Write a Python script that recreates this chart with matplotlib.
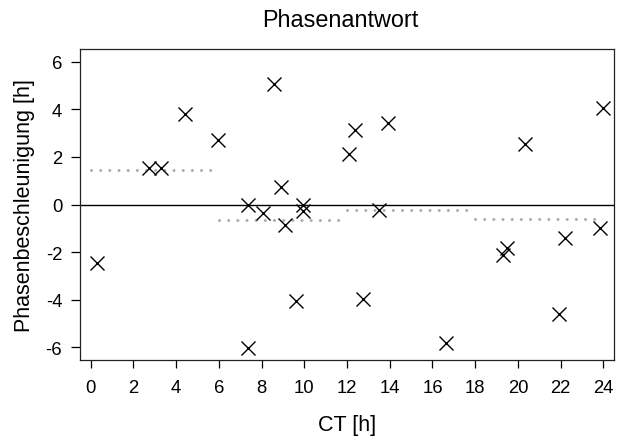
import matplotlib
matplotlib.use("Agg")
import matplotlib.pyplot as plt

plt.rcParams['font.family'] = ['Liberation Sans', 'DejaVu Sans']
plt.rcParams['axes.unicode_minus'] = False

# Data
ct = [0.28, 2.74, 3.28, 4.41, 5.98, 7.35, 7.35, 8.08, 8.58, 8.89, 9.10, 9.61,
      9.95, 9.95, 12.11, 12.37, 12.76, 13.51, 13.90, 16.63, 19.32, 19.47,
      20.35, 21.94, 22.22, 23.84, 24.00]
shift = [-2.45, 1.54, 1.54, 3.78, 2.69, 0.00, -6.04, -0.35, 5.04, 0.73, -0.84,
         -4.06, -0.03, -0.28, 2.13, 3.12, -3.96, -0.21, 3.43, -5.80, -2.10,
         -1.82, 2.55, -4.59, -1.40, -0.98, 4.06]

bin_start = [0, 6, 12, 18]
bin_end = [6, 12, 18, 24]
bin_mean = [1.45, -0.66, -0.21, -0.62]

xticks = list(range(0, 25, 2))
yticks = [-6, -4, -2, 0, 2, 4, 6]

W, H = 618, 439
fig = plt.figure(figsize=(W / 100, H / 100), dpi=100)
ax = fig.add_axes([80 / W, 1 - 361 / H, (614 - 80) / W, (361 - 50) / H])

for s, e, m in zip(bin_start, bin_end, bin_mean):
    ax.plot([s, e], [m, m], color='#adadad', lw=2.2,
            linestyle=(0, (0.001, 3.0)), dash_capstyle='round', zorder=1)

ax.axhline(0, color='black', lw=1.0, zorder=2)
ax.plot(ct, shift, linestyle='none', marker='x', color='black',
        markersize=9.6, markeredgewidth=1.0, zorder=3)

ax.set_xlim(-0.5, 24.5)
ax.set_ylim(-6.53, 6.53)
ax.set_xticks(xticks)
ax.set_yticks(yticks)
ax.set_xticklabels([str(t) for t in xticks])
ax.set_yticklabels([str(t) for t in yticks])

for sp in ax.spines.values():
    sp.set_color('#222222')
    sp.set_linewidth(0.9)

ax.tick_params(axis='x', length=5.5, width=0.9, pad=8.5, labelsize=13.3,
               colors='black')
ax.tick_params(axis='y', length=6.5, width=0.9, pad=6.3, labelsize=13.3,
               colors='black')

ax.set_xlabel('CT [h]', fontsize=15.5, labelpad=13)
ax.set_ylabel('Phasenbeschleunigung [h]', fontsize=15.5, labelpad=7.5)
ax.set_title('Phasenantwort', fontsize=16.8, pad=16.8, x=0.487)

fig.savefig('out.png', dpi=100)
